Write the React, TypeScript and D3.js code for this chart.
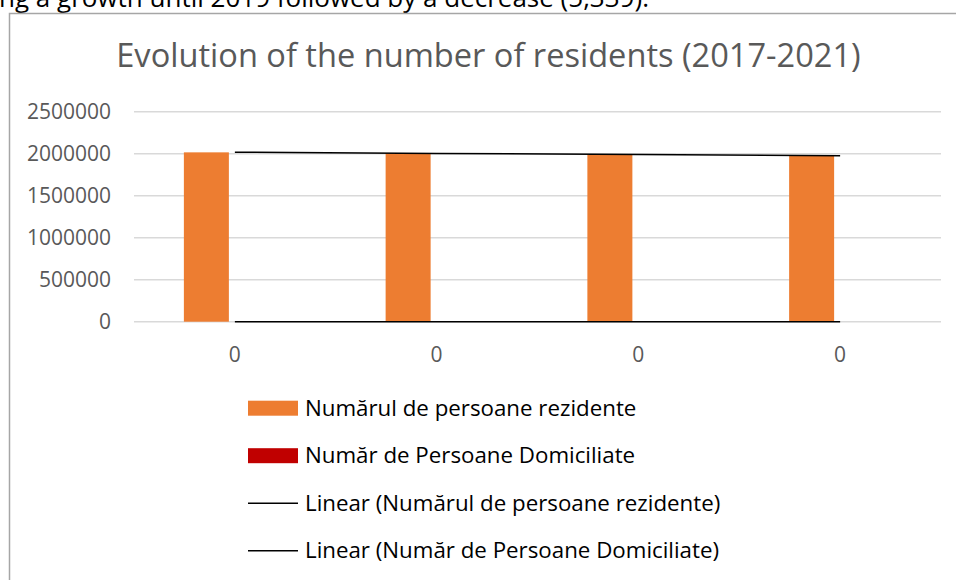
import React from "react";
import * as d3 from "d3";

const categoryLabels = ["0", "0", "0", "0"];
const residents = [2017000, 2006000, 1994000, 1974000];
const domiciled = [0, 0, 0, 0];
const yTicks = [0, 500000, 1000000, 1500000, 2000000, 2500000];
const title = "Evolution of the number of residents (2017-2021)";
const topText = "ng a growth until 2019 followed by a decrease (5,339).";
const legendItems = [
  { label: "Numărul de persoane rezidente", kind: "bar", color: "#ED7D31" },
  { label: "Număr de Persoane Domiciliate", kind: "bar", color: "#C00000" },
  { label: "Linear (Numărul de persoane rezidente)", kind: "line", color: "#000000" },
  { label: "Linear (Număr de Persoane Domiciliate)", kind: "line", color: "#000000" },
];

const FONT = "'Open Sans', sans-serif";

function linReg(vals: number[]) {
  const xs = vals.map((_, i) => i + 1);
  const mx = d3.mean(xs) as number;
  const my = d3.mean(vals) as number;
  let num = 0, den = 0;
  xs.forEach((x, i) => { num += (x - mx) * (vals[i] - my); den += (x - mx) ** 2; });
  const slope = den === 0 ? 0 : num / den;
  const intercept = my - slope * mx;
  return xs.map((x) => intercept + slope * x);
}

export default function App() {
  const W = 956, H = 580;
  const ids = categoryLabels.map((_, i) => String(i));
  const x = d3.scaleBand<string>().domain(ids).range([134, 941]).padding(0);
  const y = d3.scaleLinear().domain([0, 2500000]).range([321.7, 111.8]);
  const bw = x.bandwidth();
  const center = (i: number) => (x(String(i)) as number) + bw / 2;
  const barW = (45 / 201.75) * bw;
  const off1 = -(51 / 201.75) * bw;
  const off2 = (6 / 201.75) * bw;

  const trendRes = linReg(residents);
  const trendDom = linReg(domiciled);
  const line = d3.line<number>().x((_, i) => center(i)).y((d) => y(d));

  return (
    <svg width={W} height={H} style={{ position: "absolute", left: 0, top: 0 }} fontFamily={FONT}>
      <rect x={0} y={0} width={W} height={H} fill="#ffffff" />
      <text x={-1} y={7} fontSize={26} fill="#000">{topText}</text>
      {/* chart border */}
      <path d={`M9.5,${H} L9.5,13.5 L${W},13.5`} fill="none" stroke="#a6a6a6" strokeWidth={1.5} />
      <text x={488.5} y={66.5} textAnchor="middle" fontSize={32.6} fill="#595959">{title}</text>
      {/* gridlines */}
      {yTicks.map((t) => (
        <line key={"g" + t} x1={134} x2={941} y1={y(t)} y2={y(t)} stroke="#d9d9d9" strokeWidth={1.5} />
      ))}
      {yTicks.map((t) => (
        <text key={"yl" + t} x={111} y={y(t) + 7.5} textAnchor="end" fontSize={21} fill="#595959">{t}</text>
      ))}
      {/* bars */}
      {residents.map((v, i) => (
        <rect key={"r" + i} x={center(i) + off1} width={barW} y={y(v)} height={y(0) - y(v)} fill="#ED7D31" />
      ))}
      {domiciled.map((v, i) => (
        <rect key={"d" + i} x={center(i) + off2} width={barW} y={y(v)} height={y(0) - y(v)} fill="#C00000" />
      ))}
      {/* trend lines */}
      <path d={line(trendRes) as string} fill="none" stroke="#000" strokeWidth={1.5} />
      <path d={line(trendDom) as string} fill="none" stroke="#000" strokeWidth={1.5} />
      {/* x labels */}
      {categoryLabels.map((c, i) => (
        <text key={"xl" + i} x={center(i)} y={361.5} textAnchor="middle" fontSize={21} fill="#595959">{c}</text>
      ))}
      {/* legend */}
      {legendItems.map((it, i) => {
        const base = 415.7 + i * 47.5;
        return (
          <g key={"lg" + i}>
            {it.kind === "bar" ? (
              <rect x={248} y={base - 15} width={50} height={15} fill={it.color} />
            ) : (
              <line x1={248} x2={298} y1={base - 7.5} y2={base - 7.5} stroke={it.color} strokeWidth={1.5} />
            )}
            <text x={305} y={base} fontSize={22.3} fill="#000">{it.label}</text>
          </g>
        );
      })}
    </svg>
  );
}
